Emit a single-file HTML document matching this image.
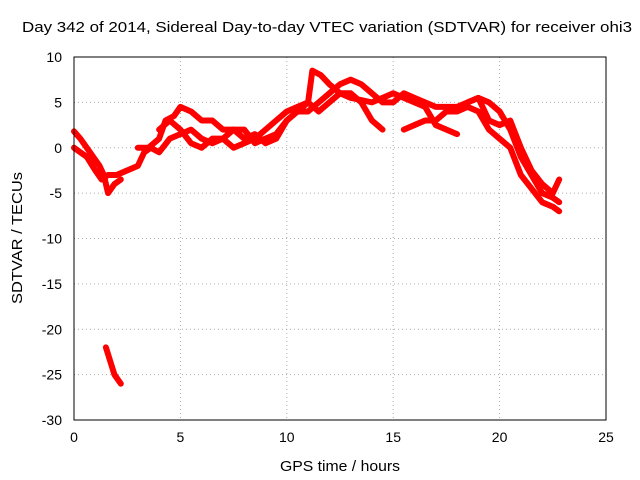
<!DOCTYPE html>
<html><head><meta charset="utf-8"><style>
body{margin:0;background:#fff;}
svg{display:block;font-family:"Liberation Sans",sans-serif;}
</style></head><body>
<svg id="chart" width="640" height="480">
<rect width="640" height="480" fill="#fff"/>
<text x="327" y="32" text-anchor="middle" font-size="15" textLength="610" lengthAdjust="spacingAndGlyphs">Day 342 of 2014, Sidereal Day-to-day VTEC variation (SDTVAR) for receiver ohi3</text>
<g id="grid"></g><g id="ticks"></g><g id="series"></g>
<rect x="74" y="57" width="532" height="363" fill="none" stroke="#000"/>
<text x="340" y="471" text-anchor="middle" font-size="15" textLength="120" lengthAdjust="spacingAndGlyphs">GPS time / hours</text>
<text transform="translate(22,238) rotate(-90)" text-anchor="middle" font-size="15" textLength="132" lengthAdjust="spacingAndGlyphs">SDTVAR / TECUs</text>
</svg>
<script>
const xTicks=[0,5,10,15,20,25];
const yTicks=[10,5,0,-5,-10,-15,-20,-25,-30];
const track1=[[0,1.8],[0.3,1],[0.6,0],[0.9,-1],[1.2,-2],[1.4,-3],[1.6,-5],[1.9,-4],[2.2,-3.5]];
const track2=[[0,0],[0.3,-0.5],[0.6,-1],[1,-2.5],[1.3,-3.5],[1.6,-3],[2,-3],[2.5,-2.5],[3,-2],[3.3,-0.5],[3.6,0],[4,-0.5],[4.5,1],[5,1.5],[5.5,2],[6,1],[6.5,0.5],[7,1],[7.5,0],[8,0.5],[8.5,1],[9,2],[9.5,3],[10,4],[10.5,4.5],[11,5],[11.5,4],[12,5],[12.5,6],[13,6],[13.5,5],[14,3],[14.5,2]];
const track3=[[3,0],[3.5,0],[4,1],[4.3,3],[4.7,3.5],[5,4.5],[5.5,4],[6,3],[6.5,3],[7,2],[7.5,2],[8,1],[8.5,1.5],[9,0.5],[9.5,1],[10,3],[10.5,4],[11,4],[11.5,5],[12,6],[12.5,7],[13,7.5],[13.5,7],[14,6],[14.5,5],[15,5],[15.5,6],[16,5.5],[16.5,5],[17,4.5],[17.5,4.5],[18,4.5],[18.5,5],[19,5.5],[19.5,5],[20,4],[20.5,2],[21,-1],[21.5,-3],[22,-5],[22.5,-5.5],[22.8,-6]];
const track4=[[4,2],[4.5,3],[5,2],[5.5,0.5],[6,0],[6.5,1],[7,1],[7.5,2],[8,2],[8.5,0.5],[9,1],[9.5,1.5],[10,3],[11,5],[11.2,8.5],[11.6,8],[12,7],[12.5,6],[13,5.5],[14,5],[14.5,5.5],[15,6],[15.5,5.5],[16,5],[16.5,4.5],[17,2.5],[17.5,2],[18,1.5]];
const track5=[[15.5,2],[16,2.5],[16.5,3],[17,3],[17.5,4],[18,4],[18.5,4.5],[19,4],[19.5,2],[20,1],[20.5,0],[21,-3],[21.5,-4.5],[22,-6],[22.5,-6.5],[22.8,-7]];
const track6=[[18.5,5],[19,5.5],[19.5,3],[20,2.5],[20.5,3],[21,0],[21.5,-2.5],[22,-4],[22.5,-5],[22.8,-3.5]];
const track7=[[1.5,-22],[1.7,-23.5],[1.9,-25],[2.2,-26]];
const tracks=[track1,track2,track3,track4,track5,track6,track7];
const NS="http://www.w3.org/2000/svg";
const X=h=>74+h*532/25, Y=v=>57+(10-v)*363/40;
function mk(t,a,p){const e=document.createElementNS(NS,t);for(const k in a)e.setAttribute(k,a[k]);p.appendChild(e);return e;}
const g=document.getElementById('grid'),tk=document.getElementById('ticks'),s=document.getElementById('series');
xTicks.forEach(v=>{
 if(v>0&&v<25){const l=mk('line',{x1:X(v),x2:X(v),y1:57,y2:420,stroke:'#aaa','stroke-dasharray':'1,3'},g);
 
 }
 const t=mk('text',{x:X(v),y:442,'text-anchor':'middle','font-size':14},tk);t.textContent=v;
 
 
});
yTicks.forEach(v=>{
 if(v<10&&v>-30){const l=mk('line',{x1:74,x2:606,y1:Y(v),y2:Y(v),stroke:'#aaa','stroke-dasharray':'1,3'},g);
 
 }
 const t=mk('text',{x:62,y:Y(v)+5,'text-anchor':'end','font-size':14},tk);t.textContent=v;
 
 
});
tracks.forEach((tr,i)=>{
 const p=mk('polyline',{points:tr.map(d=>X(d[0])+','+Y(d[1])).join(' '),fill:'none',stroke:'#f00','stroke-width':6,'stroke-linejoin':'round','stroke-linecap':'round'},s);
 
 
});
</script>
</body></html>
